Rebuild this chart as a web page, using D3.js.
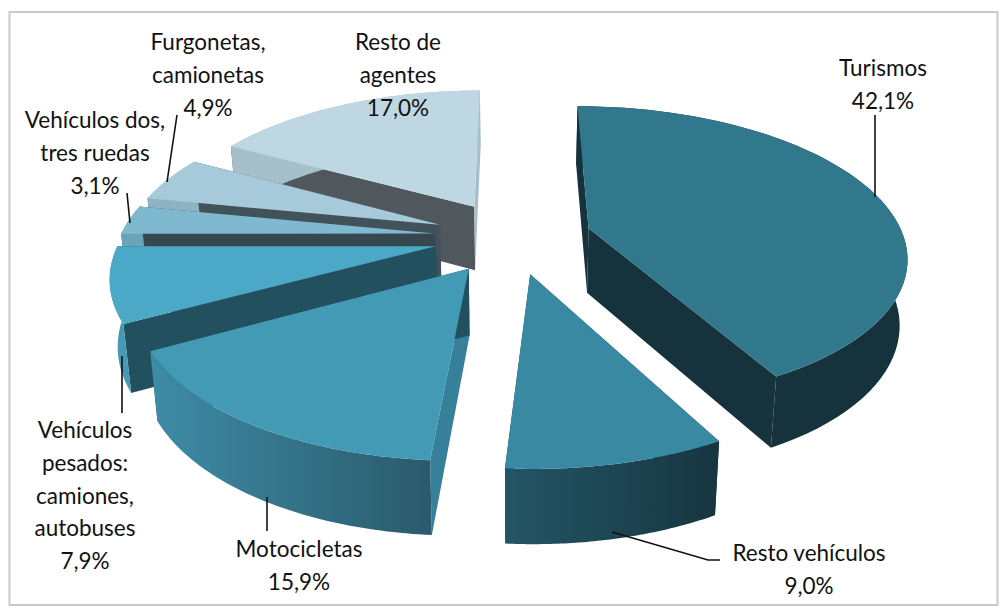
<!DOCTYPE html>
<html><head><meta charset="utf-8">
<script src="https://cdnjs.cloudflare.com/ajax/libs/d3/7.8.5/d3.min.js"></script>
<style>html,body{margin:0;padding:0;background:#fff}svg{display:block}text{font-family:Lato,"Open Sans",sans-serif;font-size:22.5px;fill:#111}</style>
</head><body><svg id="c" width="1001" height="610"></svg>
<script>
const categories=["Turismos","Resto vehículos","Motocicletas","Vehículos pesados: camiones, autobuses","Vehículos dos, tres ruedas","Furgonetas, camionetas","Resto de agentes"];
const values=[42.1,9.0,15.9,7.9,3.1,4.9,17.0];
const valueLabels=["42,1%","9,0%","15,9%","7,9%","3,1%","4,9%","17,0%"];
const topColors=["#32788d","#3a89a3","#429ab5","#4ba8c6","#7fb9d0","#a6cada","#bfd7e2"];
const sideStart=["#16323d","#163640","#36809a","#22505f","#35474f","#41525a","#50585e"];
const sideEnd=["#16323d","#163640","#22505f","#22505f","#35474f","#41525a","#a5bfcb"];
const wallLeft=["#16323d","#245566","#3e8ca6","#4599b3","#6aa4ba","#8fb3c3","#a5bfcb"];
const wallRight=["#16323d","#163640","#2a5a6c","#4599b3","#6aa4ba","#8fb3c3","#a5bfcb"];
const labelLines=[["Turismos","42,1%"],["Resto vehículos","9,0%"],["Motocicletas","15,9%"],["Vehículos","pesados:","camiones,","autobuses","7,9%"],["Vehículos dos,","tres ruedas","3,1%"],["Furgonetas,","camionetas","4,9%"],["Resto de","agentes","17,0%"]];
const labelAnchor=[[883,76],[809,561],[299,557],[85,438],[95,128],[208,50],[398,50]];
const leaders=[[[875,115],[875,197]],[[612,532],[708,560],[720,560]],[[267,497],[267,531]],[[122,356],[122,413]],[[127,193],[130,223]],[[177,115],[167,182]],[]];

const svg=d3.select("#c");
const defs=svg.append("defs");
svg.append("rect").attr("x",9.5).attr("y",12).attr("width",988).attr("height",593).attr("fill","#fff").attr("stroke","#c9c9c9").attr("stroke-width",2);

// projection of the exploded disc
const cx=513,cy=237,Rx=315,Ry=146,k=0.174,explode=0.25,depth=65;
const sx=d3.scaleLinear().domain([0,1]).range([cx,cx+Rx]);
const sy=d3.scaleLinear().domain([0,1]).range([cy,cy+Ry]);
function project(x,y,low){
  const s=1/(1-k*y);
  const shrink=low?0.98:1;
  return [sx(x*s*shrink), sy(y*s)+(low?depth*Math.pow(s,0.6):0)];
}
const arcs=d3.pie().sort(null).value((d,i)=>d).startAngle(0).endAngle(2*Math.PI)(values);
const line=d3.line();
arcs.forEach((a,i)=>a.index=i);
const order=[6,5,4,3,0,2,1];
function disc(a,t,r){
  const m=(a.startAngle+a.endAngle)/2;
  return [explode*Math.sin(m)+r*Math.sin(t), -explode*Math.cos(m)-r*Math.cos(t)];
}
order.forEach(i=>{
  const a=arcs[i];
  const ts=d3.range(0,61).map(j=>a.startAngle+(a.endAngle-a.startAngle)*j/60);
  const top=ts.map(t=>project(...disc(a,t,1),false));
  const bot=ts.map(t=>project(...disc(a,t,1),true));
  const apexT=project(...disc(a,0,0),false), apexB=project(...disc(a,0,0),true);
  const g=svg.append("g");
  // side walls
  g.append("path").attr("d",line([apexT,top[0],bot[0],apexB])+"Z").attr("fill",sideStart[i]);
  g.append("path").attr("d",line([apexT,top[60],bot[60],apexB])+"Z").attr("fill",sideEnd[i]);
  // outer wall
  const xs=top.map(p=>p[0]);
  const gid="w"+i;
  const lg=defs.append("linearGradient").attr("id",gid).attr("gradientUnits","userSpaceOnUse")
    .attr("x1",d3.min(xs)).attr("x2",d3.max(xs)).attr("y1",0).attr("y2",0);
  lg.append("stop").attr("offset",0).attr("stop-color",wallLeft[i]);
  lg.append("stop").attr("offset",1).attr("stop-color",wallRight[i]);
  g.append("path").attr("d",line(top.concat(bot.slice().reverse()))+"Z").attr("fill",`url(#${gid})`);
  // top face
  g.append("path").attr("d",line([apexT].concat(top))+"Z").attr("fill",topColors[i]);
});
leaders.forEach(l=>{ if(l.length) svg.append("path").attr("d",line(l)).attr("fill","none").attr("stroke","#111").attr("stroke-width",1.6); });
labelLines.forEach((ls,i)=>{
  const t=svg.append("text").attr("text-anchor","middle");
  ls.forEach((s,j)=>t.append("tspan").attr("x",labelAnchor[i][0]).attr("y",labelAnchor[i][1]+j*32.8).text(s));
});
</script></body></html>
